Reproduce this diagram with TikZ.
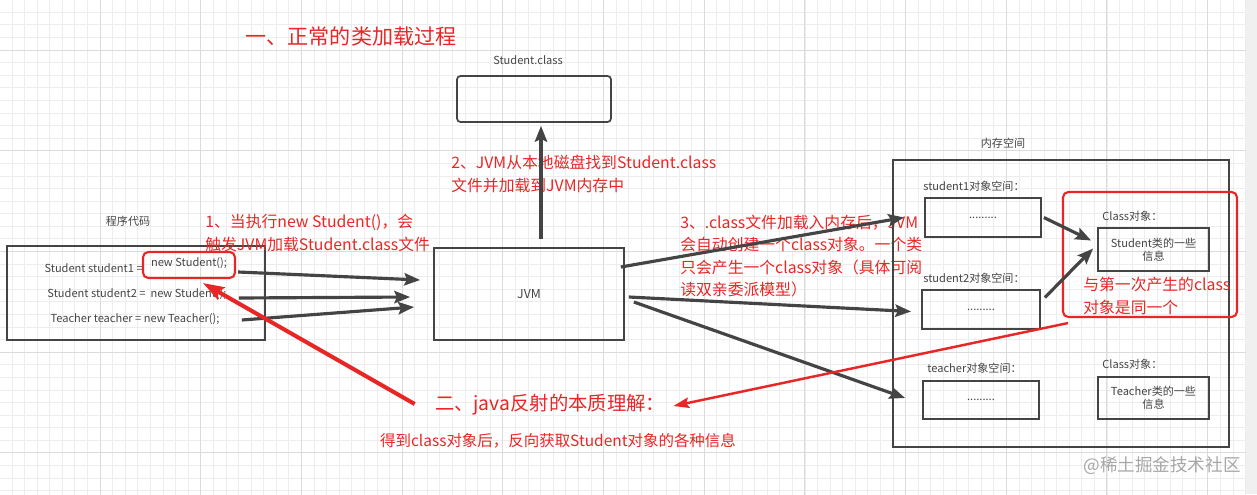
\documentclass[tikz,border=0pt]{standalone}
\usepackage{fontspec}
\setmainfont{Noto Sans CJK SC}
\usepackage{tikz}
\usetikzlibrary{calc,positioning,arrows.meta}
\definecolor{drawred}{RGB}{232,38,38}
\definecolor{darkline}{RGB}{68,68,68}
\tikzset{%
  box/.style={draw=darkline,line width=1pt,rectangle,inner sep=0pt},
  redbox/.style={draw=drawred,line width=1.2pt,rectangle,rounded corners=3pt,inner sep=0pt},
  lbl/.style={inner sep=0pt,align=center,font=\fontsize{6.3}{7.6}\selectfont,text=darkline},
  note/.style={inner sep=0pt,align=left,anchor=west,text=drawred,font=\fontsize{9}{12.8}\selectfont},
  arr/.style={draw=darkline,line width=1.8pt,-{Stealth[length=9pt,width=7pt,inset=1.5pt]}},
  redarr/.style={draw=drawred,-{Stealth[length=9pt,width=6pt,inset=1.5pt]}},
  gridminor/.style={draw=black!7,line width=0.4pt},
  gridmajor/.style={draw=black!14,line width=0.5pt}
}
\begin{document}
\begin{tikzpicture}[x=0.02cm,y=-0.02cm]
\useasboundingbox (0,0) rectangle (1257,494);
% background grid
\begin{scope}
  \clip (0,0) rectangle (1246,494);
  \draw[gridminor,step=0.2518cm,xshift=0.2374cm,yshift=-0.2446cm] (-0.6cm,-10.4cm) grid (25.6cm,0.6cm);
  \draw[gridmajor,step=2.014cm,xshift=2cm,yshift=-1cm] (-2.2cm,-12.2cm) grid (26cm,1.2cm);
\end{scope}
\fill[black!6] (1246,0) rectangle (1257,494);

% upper part: class file on disk
\node[note,anchor=center,font=\fontsize{12}{14}\selectfont] (title1) at (351,36) {一、正常的类加载过程};
\node[lbl] (clsname) at (528,60) {Student.class};
\node[box,rounded corners=2pt,minimum width=3.08cm,minimum height=0.92cm] (cls) at (534,99) {};
\node[note] (n2) at (451,174) {2、JVM从本地磁盘找到Student.class\\文件并加载到JVM内存中};

% program code
\node[lbl] (prog) at (128,221) {程序代码};
\node[box,minimum width=5.16cm,minimum height=1.88cm] (code) at (136,293) {};
\node[lbl,anchor=east] (l1) at (143,268) {Student student1 =};
\node[redbox,lbl,minimum width=1.84cm,minimum height=0.52cm,text depth=0.6ex] (nsb) at (189,265) {new Student();};
\node[lbl] (l2) at (137,294) {Student student2 =\ \ new Student();};
\node[lbl] (l3) at (135,319) {Teacher teacher = new Teacher();};
\node[note] (n1) at (205,233) {1、当执行new Student()，会\\触发JVM加载Student.class文件};

% jvm
\node[box,lbl,font=\fontsize{7}{8}\selectfont,minimum width=3.8cm,minimum height=1.84cm] (jvm) at (529,294) {JVM};
\node[note] (n3) at (680,256) {3、.class文件加载入内存后，JVM\\会自动创建一个class对象。一个类\\只会产生一个class对象（具体可阅\\读双亲委派模型）};

% memory
\node[lbl] (memname) at (1003,143) {内存空间};
\node[box,minimum width=6.72cm,minimum height=5.74cm] (mem) at (1061,303.5) {};
\node[lbl,anchor=west] (s1name) at (923,186) {student1对象空间：};
\node[box,lbl,minimum width=2.32cm,minimum height=0.78cm] (s1) at (983,217.5) {.........};
\node[lbl,anchor=west] (s2name) at (923,278) {student2对象空间：};
\node[box,lbl,minimum width=2.36cm,minimum height=0.78cm] (s2) at (981,309.5) {.........};
\node[lbl,anchor=west] (tname) at (927,368) {teacher对象空间：};
\node[box,lbl,minimum width=2.32cm,minimum height=0.76cm] (t) at (981,400) {.........};
\node[lbl,anchor=west] (c1name) at (1102,216) {Class对象：};
\node[box,lbl,minimum width=2.22cm,minimum height=0.86cm] (c1) at (1153.5,249.5) {Student类的一些\\信息};
\node[lbl,anchor=west] (c2name) at (1102,364) {Class对象：};
\node[box,lbl,minimum width=2.22cm,minimum height=0.84cm] (c2) at (1153.5,398) {Teacher类的一些\\信息};
\node[redbox,minimum width=3.48cm,minimum height=2.5cm] (same) at (1150,254.5) {};
\node[note] (n4) at (1083,296) {与第一次产生的class\\对象是同一个};

% reflection
\node[note,anchor=center,font=\fontsize{11}{13}\selectfont] (t2) at (550,405) {二、java反射的本质理解：};
\node[note,anchor=center,font=\fontsize{8.8}{10}\selectfont] (t3) at (558,441) {得到class对象后，反向获取Student对象的各种信息};
\node[lbl,text=black!35,font=\fontsize{10}{12}\selectfont] (wm) at (1162,466) {@稀土掘金技术社区};

% connectors
\draw[arr] ($(nsb.east)+(2,7)$) -- ($(jvm.west)+(-13,-14)$);
\draw[arr] ($(l2.east)+(12,4)$) -- ($(jvm.west)+(-23,3)$);
\draw[arr] ($(l3.east)+(22,1)$) -- ($(jvm.west)+(-19,13)$);
\draw[arr] ($(jvm.north)+(12,-8)$) -- ($(cls.south)+(7,3)$);
\draw[arr] ($(jvm.east)+(-4,-27)$) -- ($(s1.west)+(-20,0)$);
\draw[arr] ($(jvm.east)+(4,3)$) -- ($(s2.west)+(-10,2)$);
\draw[arr] ($(jvm.east)+(9,8)$) -- ($(t.west)+(-17,-2)$);
\draw[arr] ($(s1.east)+(2,0)$) -- ($(c1.west)+(-6,-9)$);
\draw[arr] ($(s2.east)+(4,-12)$) -- ($(c1.west)+(-4,-1)$);
\draw[redarr,line width=2.3pt,-{Stealth[length=12pt,width=8pt,inset=2pt]}] ($(t2.west)+(-20,-1)$) -- ($(nsb.south)+(14,4)$);
\draw[redarr,line width=1.4pt] ($(same.south west)+(6,5)$) -- ($(t2.east)+(8,1)$);
\end{tikzpicture}
\end{document}
